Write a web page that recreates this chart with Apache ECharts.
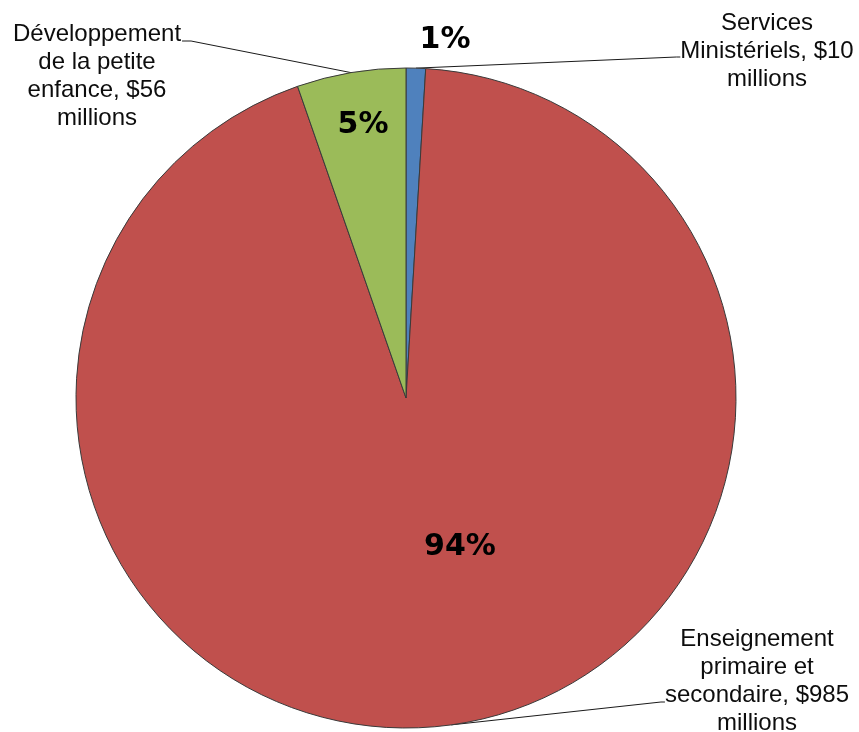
<!DOCTYPE html>
<html><head><meta charset="utf-8">
<script src="https://cdn.jsdelivr.net/npm/echarts@6/dist/echarts.min.js"></script>
<style>html,body{margin:0;padding:0;background:#fff}#c{width:859px;height:732px}</style>
</head><body><div id="c"></div>
<script>
const categories = ['Services Ministériels', 'Enseignement primaire et secondaire', 'Développement de la petite enfance'];
const values = [10, 985, 56];
const nameLines = [['Services', 'Ministériels,'], ['Enseignement', 'primaire et', 'secondaire,'], ['Développement', 'de la petite', 'enfance,']];
const unitText = 'millions';
const colors = ['#4F81BD', '#C0504D', '#9BBB59'];

// text placement (layout only)
const nameAnchors = [
  {x: 767, y: 51, ly: 57, side: 'right'},
  {x: 757, y: 681, ly: 702, side: 'right'},
  {x: 97, y: 76, ly: 41, side: 'left'}
];
const pctAnchors = [{x: 445, y: 40}, {x: 460, y: 547}, {x: 363, y: 125}];

const chart = echarts.init(document.getElementById('c'));
const data = categories.map((n, i) => ({name: n, value: values[i], itemStyle: {color: colors[i]}}));
const font = "'Liberation Sans', Arial, sans-serif";

chart.setOption({
  animation: false,
  backgroundColor: '#ffffff',
  series: [
    {
      type: 'pie',
      center: [406, 398],
      radius: 330,
      startAngle: 90,
      clockwise: true,
      avoidLabelOverlap: false,
      data: data,
      itemStyle: {borderColor: '#3a3a3a', borderWidth: 1},
      emphasis: {disabled: true},
      label: {
        show: true,
        position: 'outside',
        fontFamily: font,
        fontSize: 24,
        lineHeight: 28,
        color: '#0d0d0d',
        align: 'center',
        formatter: function (p) {
          const lines = nameLines[p.dataIndex].slice();
          lines[lines.length - 1] = lines[lines.length - 1] + ' $' + p.value;
          lines.push(unitText);
          return lines.join('\n');
        }
      },
      labelLine: {show: true, length: 20, length2: 10, lineStyle: {color: '#1a1a1a', width: 1}},
      labelLayout: function (p) {
        const a = nameAnchors[p.dataIndex];
        const w = p.labelRect.width;
        const left = a.x - w / 2, right = a.x + w / 2;
        const edge = p.labelLinePoints ? p.labelLinePoints[0] : [a.x, a.y];
        let pts;
        if (a.side === 'right') pts = [edge, [left - 4, a.ly], [left, a.ly]];
        else pts = [edge, [right + 10, a.ly], [right + 1, a.ly]];
        return {x: a.x, y: a.y, align: 'center', verticalAlign: 'middle', labelLinePoints: pts};
      }
    },
    {
      type: 'pie',
      center: [406, 398],
      radius: 330,
      startAngle: 90,
      clockwise: true,
      silent: true,
      percentPrecision: 0,
      avoidLabelOverlap: false,
      data: categories.map((n, i) => ({name: n, value: values[i]})),
      itemStyle: {color: 'rgba(0,0,0,0)', borderWidth: 0},
      emphasis: {disabled: true},
      label: {
        show: true,
        position: 'inside',
        fontFamily: "'DejaVu Sans', sans-serif",
        fontSize: 30,
        fontWeight: 'bold',
        color: '#000',
        formatter: '{d}%'
      },
      labelLine: {show: false},
      labelLayout: function (p) {
        const a = pctAnchors[p.dataIndex];
        return {x: a.x, y: a.y, align: 'center', verticalAlign: 'middle'};
      }
    }
  ]
});
</script>
</body></html>
